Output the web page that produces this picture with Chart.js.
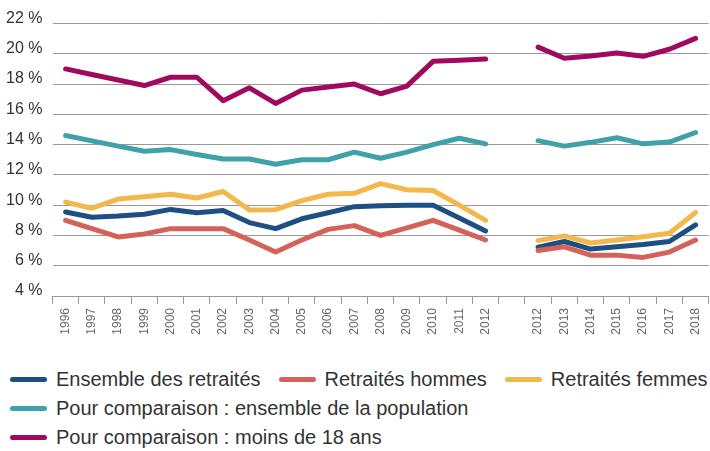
<!DOCTYPE html>
<html lang="fr">
<head>
<meta charset="utf-8">
<script src="https://cdn.jsdelivr.net/npm/chart.js@4"></script>
<style>
  html, body { margin: 0; padding: 0; background: #fff; }
  body { width: 710px; height: 451px; overflow: hidden; position: relative; font-family: "Liberation Sans", Arial, sans-serif; }
  .chart-wrapper { position: absolute; left: 0; top: 0; width: 714px; height: 341px; }
  #legend { position: absolute; left: 10px; top: 365px; color: #333; font-size: 20px; }
  .legend-row { display: flex; align-items: center; height: 29px; }
  .legend-item { display: flex; align-items: center; margin-right: 18px; white-space: nowrap; }
  .swatch { width: 37px; height: 5.5px; border-radius: 3px; margin-right: 9px; }
</style>
</head>
<body>
<div class="chart-wrapper"><canvas id="povertyChart"></canvas></div>
<div id="legend"></div>
<script>
// Years (the empty label is the break between the two series of surveys)
const years = ["1996", "1997", "1998", "1999", "2000", "2001", "2002", "2003", "2004",
  "2005", "2006", "2007", "2008", "2009", "2010", "2011", "2012", "",
  "2012", "2013", "2014", "2015", "2016", "2017", "2018"];

const ensembleRetraites = [9.55, 9.2, 9.28, 9.4, 9.72, 9.5, 9.65, 8.85, 8.45, 9.1, 9.5, 9.9,
  9.96, 10.0, 10.0, 9.15, 8.3, null, 7.22, 7.6, 7.1, 7.25, 7.4, 7.6, 8.7];
const retraitesHommes = [9.0, 8.45, 7.9, 8.1, 8.45, 8.45, 8.45, 7.7, 6.9, 7.7, 8.4, 8.65,
  8.0, 8.5, 9.0, 8.35, 7.7, null, 7.0, 7.25, 6.7, 6.7, 6.55, 6.9, 7.7];
const retraitesFemmes = [10.2, 9.8, 10.4, 10.55, 10.72, 10.47, 10.9, 9.68, 9.7, 10.3, 10.72, 10.78,
  11.42, 11.02, 10.97, 10.0, 9.0, null, 7.66, 7.97, 7.5, 7.7, 7.92, 8.15, 9.52];
const ensemblePopulation = [14.6, 14.25, 13.9, 13.56, 13.67, 13.35, 13.05, 13.05, 12.7, 13.0, 13.0, 13.5,
  13.1, 13.5, 14.0, 14.42, 14.05, null, 14.26, 13.9, 14.15, 14.45, 14.05, 14.17, 14.8];
const moinsDe18 = [19.0, 18.63, 18.27, 17.9, 18.45, 18.45, 16.9, 17.75, 16.72, 17.6, 17.8, 18.0,
  17.36, 17.86, 19.5, 19.58, 19.65, null, 20.44, 19.7, 19.85, 20.05, 19.83, 20.3, 21.02];

const seriesNames = [
  "Ensemble des retraités",
  "Retraités hommes",
  "Retraités femmes",
  "Pour comparaison : ensemble de la population",
  "Pour comparaison : moins de 18 ans",
];
const seriesColors = ["#1d4f82", "#d4625a", "#f2b84b", "#40a1a9", "#a00a5e"];
const seriesData = [ensembleRetraites, retraitesHommes, retraitesFemmes, ensemblePopulation, moinsDe18];

// Legend rows as in the original: 3 items, then one per row
const legendRows = [[0, 1, 2], [3], [4]];

const datasets = seriesData.map((data, i) => ({
  label: seriesNames[i],
  data,
  borderColor: seriesColors[i],
  backgroundColor: seriesColors[i],
  borderWidth: 5,
  borderCapStyle: "round",
  borderJoinStyle: "round",
  pointRadius: 0,
  pointHoverRadius: 0,
  tension: 0,
  spanGaps: false,
}));

// Draw order: put the background comparisons first so retirees sit on top
const drawOrder = [4, 3, 2, 1, 0];
drawOrder.forEach((idx, k) => { datasets[idx].order = k; });

const ctx = document.getElementById("povertyChart").getContext("2d");
new Chart(ctx, {
  type: "line",
  data: { labels: years, datasets },
  options: {
    responsive: true,
    maintainAspectRatio: false,
    animation: false,
    layout: { padding: { top: 23.5, right: 1, left: 0, bottom: 0 } },
    plugins: {
      legend: { display: false },
      tooltip: { enabled: false },
    },
    scales: {
      x: {
        offset: true,
        afterFit: (s) => { s.height = 45; },
        grid: {
          offset: true,
          drawOnChartArea: false,
          drawTicks: true,
          tickLength: 8,
          color: "#999",
          lineWidth: 1,
        },
        border: { display: true, color: "#999", width: 1 },
        ticks: {
          autoSkip: false,
          maxRotation: 90,
          minRotation: 90,
          padding: 4,
          color: "#666",
          font: { family: "Liberation Sans", size: 12 },
        },
      },
      y: {
        min: 4,
        max: 22,
        afterFit: (s) => { s.width = 52.5; },
        grid: { color: "#999", lineWidth: 1, drawTicks: false },
        border: { display: false },
        ticks: {
          stepSize: 2,
          padding: 10,
          labelOffset: -5,
          color: "#333",
          font: { family: "Liberation Sans", size: 16 },
          callback: (v) => `${v} %`,
        },
      },
    },
  },
});

// HTML legend
const legendEl = document.getElementById("legend");
legendRows.forEach((row) => {
  const rowEl = document.createElement("div");
  rowEl.className = "legend-row";
  row.forEach((i) => {
    const item = document.createElement("div");
    item.className = "legend-item";
    item.innerHTML = `<span class="swatch" style="background:${seriesColors[i]}"></span><span>${seriesNames[i]}</span>`;
    rowEl.appendChild(item);
  });
  legendEl.appendChild(rowEl);
});
</script>
</body>
</html>
